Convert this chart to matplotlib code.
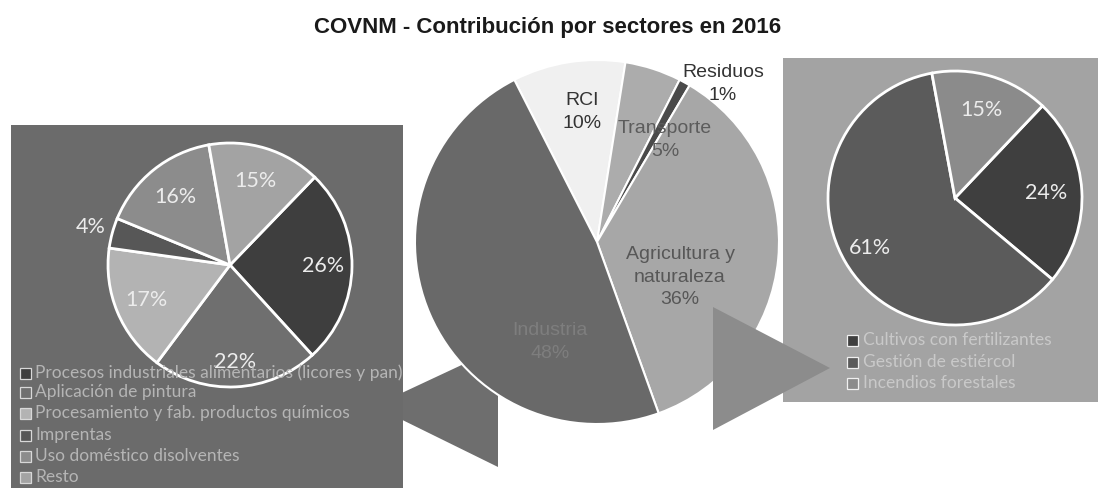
import numpy as np
import matplotlib
matplotlib.use("Agg")
import matplotlib.pyplot as plt
from matplotlib.patches import Rectangle, Polygon

W, H = 1099, 488

# central pie: sectors
main_labels = ["RCI", "Transporte", "Residuos", "Agricultura y\nnaturaleza", "Industria"]
main_values = [10, 5, 1, 36, 48]

# left pie: industria breakdown
ind_labels = ["Procesos industriales alimentarios (licores y pan)",
              "Aplicación de pintura",
              "Procesamiento y fab. productos químicos",
              "Imprentas",
              "Uso doméstico disolventes",
              "Resto"]
ind_values = [26, 22, 17, 4, 16, 15]

# right pie: agricultura breakdown
agr_labels = ["Cultivos con fertilizantes", "Gestión de estiércol", "Incendios forestales"]
agr_values = [24, 61, 15]

# styles
main_colors = ["#f0f0f0", "#acacac", "#4a4a4a", "#a7a7a7", "#696969"]
main_txt_colors = ["#333333", "#5c5c5c", "#333333", "#575757", "#7e7e7e"]
main_txt_xy = [(582, 112), (665, 140), (723, 84), (680, 277), (550, 342)]
ind_colors = ["#3e3e3e", "#6f6f6f", "#b3b3b3", "#575757", "#8c8c8c", "#a3a3a3"]
ind_dist = [0.76, 0.8, 0.74, 1.18, 0.71, 0.72]
agr_colors = ["#3f3f3f", "#5b5b5b", "#8b8b8b"]
agr_dist = [0.72, 0.78, 0.72]


def py(y):
    # pixel row -> data y
    return H - y


def pct_labels(ax, wedges, values, center, radius, dists, **kw):
    for w, v, d in zip(wedges, values, dists):
        mid = np.radians((w.theta1 + w.theta2) / 2)
        ax.text(center[0] + d * radius * np.cos(mid), center[1] + d * radius * np.sin(mid),
                f"{v}%", ha="center", va="center", zorder=5, **kw)


fig = plt.figure(figsize=(W / 100, H / 100), dpi=100)
ax = fig.add_axes([0, 0, 1, 1])

# panels and arrows
ax.add_patch(Polygon([(374, py(406)), (498, py(348)), (498, py(467))],
                     closed=True, facecolor="#6e6e6e", edgecolor="none", zorder=0))
ax.add_patch(Rectangle((11, 0), 392, py(125), facecolor="#6b6b6b", edgecolor="none", zorder=0.5))
ax.add_patch(Rectangle((783, py(402)), 315, 344, facecolor="#a3a3a3", edgecolor="none", zorder=0.5))
ax.add_patch(Polygon([(713, py(307)), (713, py(430)), (830, py(368))],
                     closed=True, facecolor="#8c8c8c", edgecolor="none", zorder=2))

# left pie
c_ind = (230, py(265))
r_ind = 122
w_ind, _ = ax.pie(ind_values, colors=ind_colors, startangle=46, counterclock=False,
                  center=c_ind, radius=r_ind, frame=True,
                  wedgeprops=dict(edgecolor="white", linewidth=2, zorder=1))
pct_labels(ax, w_ind, ind_values, c_ind, r_ind, ind_dist,
           color="#ececec", fontsize=15.5, family="Lato")

# right pie
c_agr = (955, py(198))
r_agr = 127
w_agr, _ = ax.pie(agr_values, colors=agr_colors, startangle=46.5, counterclock=False,
                  center=c_agr, radius=r_agr, frame=True,
                  wedgeprops=dict(edgecolor="white", linewidth=2, zorder=1))
pct_labels(ax, w_agr, agr_values, c_agr, r_agr, agr_dist,
           color="#ececec", fontsize=15.5, family="Lato")

# central pie
c_main = (597, py(242))
r_main = 182
w_main, _ = ax.pie(main_values, colors=main_colors, startangle=117, counterclock=False,
                   center=c_main, radius=r_main, frame=True,
                   explode=[0, 0, 0, 0, 0.03],
                   wedgeprops=dict(edgecolor="white", linewidth=1.5, zorder=1))
for lab, v, (x, y), col in zip(main_labels, main_values, main_txt_xy, main_txt_colors):
    ax.text(x, py(y), f"{lab}\n{v}%", ha="center", va="center", color=col,
            fontsize=14, family="Liberation Sans", linespacing=1.4, zorder=5)

# legends
ind_leg_y = [373, 392, 413, 435, 456, 477]
for lab, col, y in zip(ind_labels, ind_colors, ind_leg_y):
    ax.add_patch(Rectangle((20, py(y) - 5.5), 11, 11, facecolor=col, edgecolor="#d8d8d8",
                           linewidth=0.9, zorder=4))
    ax.text(35, py(y), lab, ha="left", va="center", color="#b5b5b5",
            fontsize=12.5, family="Lato", zorder=5)

agr_leg_y = [340, 362, 383]
for lab, col, y in zip(agr_labels, agr_colors, agr_leg_y):
    ax.add_patch(Rectangle((847, py(y) - 5.5), 11, 11, facecolor=col, edgecolor="#f0f0f0",
                           linewidth=0.9, zorder=4))
    ax.text(863, py(y), lab, ha="left", va="center", color="#c9c9c9",
            fontsize=12.5, family="Lato", zorder=5)

ax.set_xlim(0, W)
ax.set_ylim(0, H)
ax.set_aspect("auto")
ax.axis("off")

fig.text(548 / W, 1 - 28 / H, "COVNM - Contribución por sectores en 2016",
         ha="center", va="center", fontsize=16, fontweight="bold",
         family="Liberation Sans", color="#1a1a1a")

fig.savefig("out.png", dpi=100)
